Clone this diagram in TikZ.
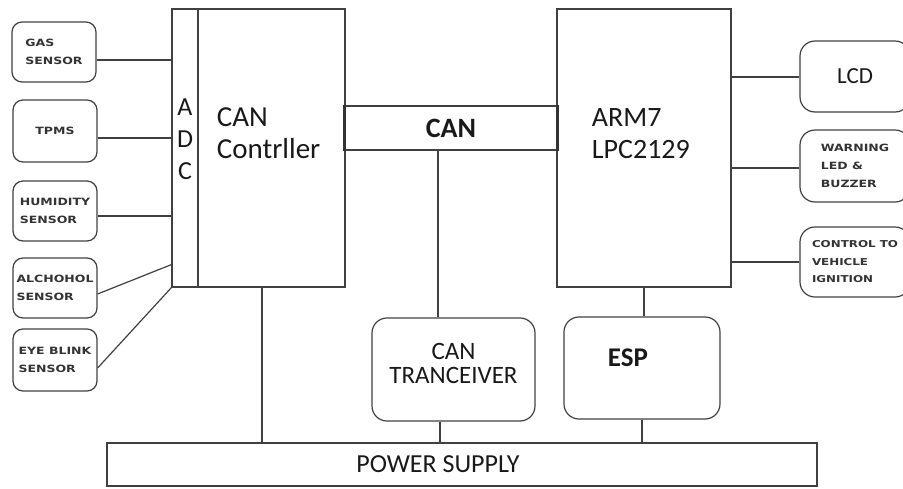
\documentclass[tikz,border=0pt]{standalone}
\usepackage{fontspec}
\setmainfont{Carlito}
\newfontfamily\tagfont[FakeStretch=1.25]{DejaVu Sans}
\usetikzlibrary{calc,positioning}
\tikzset{
    block/.style={draw=black!75, line width=1.2pt},
    sensor/.style={block, rounded corners=10pt, minimum width=84pt, minimum height=60pt, inner sep=0pt},
    unit/.style={block, rounded corners=15pt, inner sep=0pt},
    tagtext/.style={font={\tagfont\bfseries\fontsize{10}{18}\selectfont}, text=black!80, align=left},
    bigtext/.style={font={\fontsize{28}{32}\selectfont}, text=black!90, align=left},
    wire/.style={draw=black!75, line width=1.2pt}
}
\begin{document}
\begin{tikzpicture}[x=1pt, y=-1pt]
    \useasboundingbox (0,0) rectangle (903,488);
    % sensors on the left
    \node[sensor, tagtext] (gas) at (54,52) {GAS\\SENSOR};
    \node[sensor, tagtext, minimum height=62pt] (tpms) at (55,131) {TPMS};
    \node[sensor, tagtext] (hum) at (55,211) {HUMIDITY\\SENSOR};
    \node[sensor, tagtext] (alc) at (55,288) {ALCHOHOL\\SENSOR};
    \node[sensor, tagtext, minimum height=62pt] (eye) at (55,360) {EYE BLINK\\SENSOR};
    % main blocks
    \node[block, minimum width=26pt, minimum height=278pt] (adc) at (185,148) {};
    \node[block, minimum width=147pt, minimum height=278pt] (ctrl) at (271.5,148) {};
    \node[block, minimum width=212pt, minimum height=44pt, font={\bfseries\fontsize{28}{32}\selectfont}, text=black!90] (bus) at (451,128) {CAN};
    \node[block, minimum width=174pt, minimum height=278pt] (arm) at (644,148) {};
    \draw[line width=3pt, black!80] (bus.north west) -- (bus.south west);
    \draw[line width=3pt, black!80] (bus.north east) -- (bus.south east);
    \node[bigtext, align=center, font={\fontsize{26}{32}\selectfont}] (adclabel) at ($(adc.center)+(0,-9)$) {A\\D\\C};
    \node[bigtext, anchor=west, font={\fontsize{29}{32}\selectfont}] (ctrllabel) at ($(ctrl.west)+(16,-15)$) {CAN\\Contrller};
    \node[bigtext, anchor=west] (armlabel) at ($(arm.west)+(32,-14)$) {ARM7\\LPC2129};
    % outputs on the right
    \node[unit, minimum width=110pt, minimum height=71pt, font={\fontsize{23}{28}\selectfont}, text=black!90] (lcd) at (855,76.5) {LCD};
    \node[unit, tagtext, minimum width=110pt, minimum height=72pt] (warn) at (855,166) {WARNING\\LED \&\\BUZZER};
    \node[unit, tagtext, minimum width=110pt, minimum height=70pt, font={\tagfont\bfseries\fontsize{9.5}{17.5}\selectfont}] (ign) at (855,262) {CONTROL TO\\VEHICLE\\IGNITION};
    % bottom row
    \node[unit, minimum width=163pt, minimum height=103pt] (trx) at (453.5,369.5) {};
    \node[align=center, font={\fontsize{25}{24}\selectfont}, text=black!90] (trxlabel) at ($(trx.center)+(0,-6)$) {CAN\\TRANCEIVER};
    \node[unit, minimum width=156pt, minimum height=102pt] (esp) at (642,368) {};
    \node[font={\bfseries\fontsize{27}{32}\selectfont}, text=black!90] (esplabel) at ($(esp.center)+(-14,-10)$) {ESP};
    \node[block, minimum width=710pt, minimum height=43pt] (psu) at (462,464.5) {};
    \node[font={\fontsize{26}{28}\selectfont}, text=black!90] (psulabel) at ($(psu.center)+(-24,0)$) {POWER SUPPLY};
    % sensor wires
    \draw[wire] ([yshift=-8pt]gas.east) coordinate (gasout) -- (gasout -| adc.west);
    \draw[wire] ([yshift=-7pt]tpms.east) coordinate (tpmsout) -- (tpmsout -| adc.west);
    \draw[wire] ([yshift=-5pt]hum.east) coordinate (humout) -- (humout -| adc.west);
    \draw[wire] ([yshift=-6pt]alc.east) -- ([yshift=23pt]adc.south west);
    \draw[wire] ([yshift=-8pt]eye.east) -- (adc.south west);
    % output wires
    \draw[wire, line width=2pt] (lcd.west) -- (lcd.west -| arm.east);
    \draw[wire] ([yshift=-2pt]warn.west) coordinate (warnin) -- (warnin -| arm.east);
    \draw[wire] (ign.west) -- (ign.west -| arm.east);
    % bus and supply wires
    \draw[wire] ([xshift=-13pt]bus.south) coordinate (bustap) -- (bustap |- trx.north);
    \draw[wire] (arm.south) -- (arm.south |- esp.north);
    \draw[wire] ([xshift=-9.5pt]ctrl.south) coordinate (ctrlout) -- (ctrlout |- psu.north);
    \draw[wire] ([xshift=-13.5pt]trx.south) coordinate (trxout) -- (trxout |- psu.north);
    \draw[wire] (esp.south) -- (esp.south |- psu.north);
\end{tikzpicture}
\end{document}
